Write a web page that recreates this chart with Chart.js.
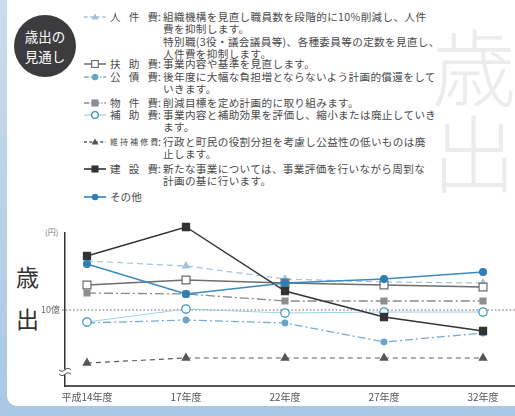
<!DOCTYPE html>
<html lang="ja">
<head>
<meta charset="utf-8">
<script src="https://cdn.jsdelivr.net/npm/chart.js@4.4.1/dist/chart.umd.min.js"></script>
<style>
  html, body { margin: 0; padding: 0; }
  body {
    width: 515px; height: 416px; overflow: hidden; position: relative;
    background: linear-gradient(180deg, #c9dcec 0%, #a9c8e4 100%);
    font-family: "Noto Sans CJK JP", "Noto Sans", sans-serif; color: #4a4a4a;
  }
  #panel {
    position: absolute; left: 7px; top: -20px; width: 540px; height: 426px;
    background: #fff; border-radius: 10px;
  }
  .wm {
    position: absolute; font-size: 84px; line-height: 84px; color: #eaecee;
    font-family: "Noto Sans CJK JP", sans-serif; font-weight: 300;
  }
  #badge {
    position: absolute; left: 14px; top: 15px; width: 62px; height: 62px; border-radius: 50%;
    background: #3c3c3e; color: #fff; font-size: 13.5px; line-height: 20px;
    text-align: center; display: flex; align-items: center; justify-content: center;
  }
  .row { position: absolute; left: 84px; font-size: 10.6px; line-height: 12.4px; white-space: nowrap; }
  .row svg { position: absolute; left: 0; top: 0; }
  .row .nm {
    position: absolute; left: 26px; top: 0; width: 48px;
    text-align: justify; text-align-last: justify;
  }
  .row .nm.small { font-size: 8px; letter-spacing: -0.2px; }
  .row .colon { position: absolute; left: 74px; top: 0; }
  .row .desc { position: absolute; left: 79px; top: 0; letter-spacing: 0.35px; }
  .big { position: absolute; font-size: 23px; color: #333; line-height: 24px; }
  .small-lbl { position: absolute; font-size: 8px; color: #777; }
  #chartBox { position: absolute; left: 0; top: 215px; width: 515px; height: 201px; }
</style>
</head>
<body>
<div id="panel"></div>
<div class="wm" style="left:432px; top:22px;">歳</div>
<div class="wm" style="left:432px; top:108px;">出</div>
<div id="badge"><div>歳出の<br>見通し</div></div>
<div id="legend"></div>
<div class="big" style="left:16px; top:264px;">歳</div>
<div class="big" style="left:16px; top:306px;">出</div>
<div class="small-lbl" style="left:45px; top:226px;">(円)</div>
<div id="chartBox"><canvas id="c"></canvas></div>
<script>
// Fiscal years on the horizontal axis
const years = ['平成14年度', '17年度', '22年度', '27年度', '32年度'];

// Expenditure outlook per category (億円)
const jinkenhi   = [12.45, 12.2, 11.55, 11.4, 11.35]; // 人件費
const fujohi     = [11.25, 11.5, 11.35, 11.25, 11.15]; // 扶助費
const kousaihi   = [9.35, 9.5, 9.35, 8.4, 8.85];      // 公債費
const bukkenhi   = [10.85, 10.8, 10.45, 10.45, 10.45]; // 物件費
const hojohi     = [9.4, 10.05, 9.85, 9.9, 9.9];      // 補助費
const ijihoshuhi = [7.35, 7.6, 7.6, 7.6, 7.6];        // 維持補修費
const kensetsuhi = [12.7, 14.15, 10.95, 9.65, 8.95];  // 建設費
const sonota     = [12.3, 10.8, 11.35, 11.55, 11.9];  // その他

// Reference level marked on the vertical axis
const referenceValue = 10;
const referenceLabel = '10億';

const seriesNames = ['人件費', '扶助費', '公債費', '物件費', '補助費', '維持補修費', '建設費', 'その他'];
const seriesValues = [jinkenhi, fujohi, kousaihi, bukkenhi, hojohi, ijihoshuhi, kensetsuhi, sonota];

// Legend captions and policy notes
const legendCaptions = ['人件費', '扶助費', '公債費', '物件費', '補助費', '維持補修費', '建設費', 'その他'];
const legendNotes = [
  ['組織機構を見直し職員数を段階的に10%削減し、人件', '費を抑制します。', '特別職(3役・議会議員等)、各種委員等の定数を見直し、', '人件費を抑制します。'],
  ['事業内容や基準を見直します。'],
  ['後年度に大幅な負担増とならないよう計画的償還をして', 'いきます。'],
  ['削減目標を定め計画的に取り組みます。'],
  ['事業内容と補助効果を評価し、縮小または廃止していき', 'ます。'],
  ['行政と町民の役割分担を考慮し公益性の低いものは廃', '止します。'],
  ['新たな事業については、事業評価を行いながら周到な', '計画の基に行います。'],
  []
];

// Line and marker appearance for each series
const styles = [
  { color: '#a7c1d6', dash: [6, 4],       width: 1.2, point: 'triangle', r: 3.8, fill: '#a7c1d6', pb: '#a7c1d6' },
  { color: '#6e6e6e', dash: [],           width: 1.3, point: 'rect',     r: 5.6, fill: '#ffffff', pb: '#6a6a6a' },
  { color: '#74acd0', dash: [8, 3, 2, 3], width: 1.3, point: 'circle',   r: 2.8, fill: '#6aa5c9', pb: '#6aa5c9' },
  { color: '#8a8a8a', dash: [9, 3, 2, 3], width: 1.3, point: 'rect',     r: 4.2, fill: '#8d8d8d', pb: '#8d8d8d' },
  { color: '#9fd0e8', dash: [],           width: 1.0, point: 'circle',   r: 4.2, fill: '#ffffff', pb: '#3a93c3' },
  { color: '#5e5e5e', dash: [5, 4],       width: 1.2, point: 'triangle', r: 4.2, fill: '#555555', pb: '#555555' },
  { color: '#333333', dash: [],           width: 1.4, point: 'rect',     r: 5.0, fill: '#333333', pb: '#333333' },
  { color: '#3b8ac0', dash: [],           width: 1.5, point: 'circle',   r: 3.4, fill: '#2f7fb6', pb: '#2f7fb6' }
];

// Vertical centre of each legend entry
const legendRowCentres = [17, 64, 77, 103, 115, 142, 169, 197];

function markerSvg(s) {
  const cx = 11, cy = 6;
  let m = '';
  if (s.point === 'circle') {
    const rr = s.fill === '#ffffff' ? 3.3 : 2.6;
    m = `<circle cx="${cx}" cy="${cy}" r="${rr}" fill="${s.fill}" stroke="${s.pb}" stroke-width="1.3"/>`;
  } else if (s.point === 'rect') {
    const h = s.fill === '#ffffff' ? 3.4 : 3;
    m = `<rect x="${cx - h}" y="${cy - h}" width="${2 * h}" height="${2 * h}" fill="${s.fill}" stroke="${s.pb}" stroke-width="1.1"/>`;
  } else {
    m = `<polygon points="${cx},${cy - 3.6} ${cx + 3.4},${cy + 2.6} ${cx - 3.4},${cy + 2.6}" fill="${s.fill}"/>`;
  }
  const dash = s.dash.length ? `stroke-dasharray="${s.dash.map(d => d * 0.6).join(' ')}"` : '';
  return `<svg width="24" height="12" viewBox="0 0 24 12"><line x1="0" y1="${cy}" x2="22" y2="${cy}" stroke="${s.color}" stroke-width="${s.width + 0.2}" ${dash}/>${m}</svg>`;
}

const legend = document.getElementById('legend');
legendCaptions.forEach((cap, i) => {
  const row = document.createElement('div');
  row.className = 'row';
  row.style.top = (legendRowCentres[i] - 6.2) + 'px';
  const notes = legendNotes[i];
  let html = markerSvg(styles[i]);
  if (notes.length) {
    html += `<span class="nm${cap.length > 3 ? ' small' : ''}">${cap.split('').join('<span> </span>')}</span>`;
    html += `<span class="colon">:</span>`;
    html += `<span class="desc">${notes.join('<br>')}</span>`;
  } else {
    html += `<span class="nm" style="text-align:left;text-align-last:left">${cap}</span>`;
  }
  row.innerHTML = html;
  legend.appendChild(row);
});

// Dotted reference line at 10億 and the axis break mark
const decorations = {
  id: 'decorations',
  beforeDatasetsDraw(chart) {
    const { ctx, chartArea, scales } = chart;
    const y = scales.y.getPixelForValue(referenceValue);
    ctx.save();
    ctx.strokeStyle = '#6f5a52';
    ctx.lineWidth = 1.2;
    ctx.setLineDash([1.5, 2.2]);
    ctx.beginPath();
    ctx.moveTo(chartArea.left - 3, y);
    ctx.lineTo(chartArea.right, y);
    ctx.stroke();
    ctx.restore();
  },
  afterDraw(chart) {
    const { ctx, chartArea } = chart;
    const x = chartArea.left;
    const yb = chartArea.bottom - 14;
    ctx.save();
    ctx.fillStyle = '#ffffff';
    ctx.fillRect(x - 2, yb - 2.5, 4, 5);
    ctx.strokeStyle = '#555';
    ctx.lineWidth = 1;
    [-2.2, 2.2].forEach(off => {
      ctx.beginPath();
      for (let k = 0; k <= 12; k++) {
        const px = x - 6 + k;
        const py = yb + off + Math.sin(k / 12 * Math.PI * 2) * 1.4;
        if (k === 0) ctx.moveTo(px, py); else ctx.lineTo(px, py);
      }
      ctx.stroke();
    });
    ctx.restore();
  }
};

const datasets = seriesNames.map((name, i) => {
  const s = styles[i];
  return {
    label: name,
    data: seriesValues[i].map((v, k) => ({ x: k, y: v })),
    borderColor: s.color,
    borderWidth: s.width,
    borderDash: s.dash,
    pointStyle: s.point,
    pointRadius: s.r,
    pointBackgroundColor: s.fill,
    pointBorderColor: s.pb,
    pointBorderWidth: 1.2,
    tension: 0,
    clip: false,
    order: 8 - i
  };
});

new Chart(document.getElementById('c'), {
  type: 'line',
  data: { datasets },
  plugins: [decorations],
  options: {
    responsive: true,
    maintainAspectRatio: false,
    animation: false,
    events: [],
    layout: { padding: { top: 18, left: 0, right: 0, bottom: 0 }, autoPadding: false },
    plugins: { legend: { display: false }, tooltip: { enabled: false } },
    scales: {
      x: {
        type: 'linear',
        min: -0.222,
        max: 4.323,
        afterBuildTicks: (scale) => { scale.ticks = years.map((_, k) => ({ value: k })); },
        afterFit: (scale) => { scale.height = 30; },
        ticks: {
          callback: (v) => years[v] ?? '',
          color: '#555',
          font: { size: 10, family: '"Noto Sans CJK JP", sans-serif' },
          padding: 5,
          maxRotation: 0,
          autoSkip: false
        },
        grid: { display: false, drawTicks: false },
        border: { display: true, color: '#555', width: 2 }
      },
      y: {
        type: 'linear',
        min: 6.2,
        max: 13.85,
        afterBuildTicks: (scale) => { scale.ticks = [{ value: referenceValue }]; },
        afterFit: (scale) => { scale.width = 65; },
        ticks: {
          callback: () => referenceLabel,
          color: '#666',
          font: { size: 9, family: '"Noto Sans CJK JP", sans-serif' },
          padding: 5
        },
        grid: { display: false, drawTicks: false },
        border: { display: true, color: '#333', width: 1.5 }
      }
    }
  }
});
</script>
</body>
</html>
